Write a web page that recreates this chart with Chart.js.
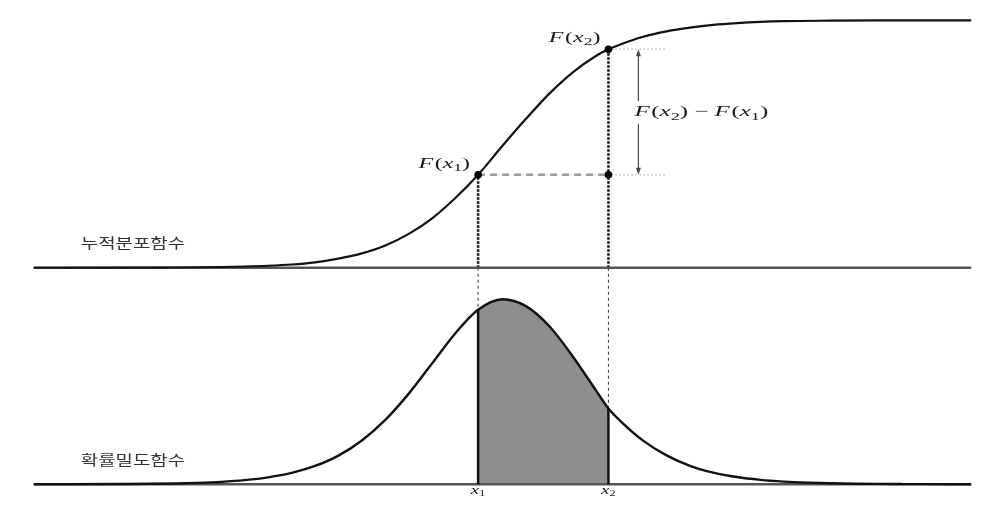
<!DOCTYPE html>
<html>
<head>
<meta charset="utf-8">
<script src="https://cdn.jsdelivr.net/npm/chart.js@4/dist/chart.umd.min.js"></script>
<style>
  html, body { margin: 0; padding: 0; background: #ffffff; }
  #wrap { width: 1002px; height: 506px; }
</style>
</head>
<body>
<div id="wrap"><canvas id="c" width="1002" height="506"></canvas></div>
<script>
// ---- data (x in arbitrary units along the horizontal axis) ----
const CDF_X = [0, 1.00, 1.50, 2.00, 2.25, 2.50, 2.75, 3.00, 3.25, 3.50, 3.75, 4.00, 4.25, 4.50, 4.74, 5.00, 5.25, 5.50, 5.75, 6.00, 6.13, 6.25, 6.50, 6.75, 7.00, 7.25, 7.50, 7.75, 8.00, 8.50, 9.00, 10.0];
const CDF_Y = [0, 0.0002, 0.001, 0.003, 0.005, 0.008, 0.013, 0.022, 0.037, 0.058, 0.090, 0.137, 0.200, 0.283, 0.376, 0.493, 0.602, 0.704, 0.790, 0.857, 0.883, 0.902, 0.934, 0.956, 0.971, 0.982, 0.989, 0.994, 0.997, 0.999, 1.0, 1.0];

const PDF_X = [0, 1.00, 1.25, 1.50, 1.75, 2.00, 2.25, 2.50, 2.75, 3.00, 3.25, 3.50, 3.75, 4.00, 4.25, 4.50, 4.74, 5.00, 5.25, 5.50, 5.75, 6.00, 6.13, 6.25, 6.50, 6.75, 7.00, 7.25, 7.50, 7.75, 8.00, 8.25, 8.50, 8.75, 9.00, 9.25, 9.50, 10.0];
const PDF_Y = [0, 0.0015, 0.0026, 0.0045, 0.0078, 0.0132, 0.0223, 0.0373, 0.0613, 0.0988, 0.155, 0.237, 0.348, 0.490, 0.654, 0.818, 0.943, 1.0, 0.963, 0.854, 0.691, 0.505, 0.410, 0.346, 0.236, 0.156, 0.100, 0.063, 0.039, 0.024, 0.0146, 0.0088, 0.0053, 0.0032, 0.0019, 0.0011, 0.0006, 0];

const AXIS_RANGE = [0, 10];          // extent of both baselines
const MARK_X = [4.74, 6.13];         // x1, x2
const MARK_F = [0.376, 0.883];       // F(x1), F(x2)
const MARK_P = [0.943, 0.410];       // f(x1), f(x2)

const LABEL_TOP = '누적분포함수';
const LABEL_BOTTOM = '확률밀도함수';
const TICK_LABELS = ['1', '2'];      // subscripts of x1, x2

// ---- helpers ----
const pts = (xs, ys) => xs.map((x, i) => ({ x: x, y: ys[i] }));
const pdfPts = pts(PDF_X, PDF_Y);
const shadePts = pdfPts.filter(p => p.x >= MARK_X[0] && p.x <= MARK_X[1]);

const SERIF = '"Liberation Serif", "DejaVu Serif", serif';
function drawRuns(ctx, runs, x, y, sx, align) {
  ctx.save();
  ctx.textBaseline = 'middle';
  let w = 0;
  runs.forEach(r => { ctx.font = r.font; r.w = ctx.measureText(r.t).width + (r.k || 0); w += r.w; });
  let start = x;
  if (align === 'center') start = x - w * sx / 2;
  else if (align === 'right') start = x - w * sx;
  ctx.translate(start, y);
  ctx.scale(sx, 1);
  let cx = 0;
  runs.forEach(r => { ctx.font = r.font; ctx.fillText(r.t, cx, r.dy || 0); cx += r.w; });
  ctx.restore();
}
function fx(sub, size) {
  const it = 'italic ' + size + 'px ' + SERIF;
  const rm = size + 'px ' + SERIF;
  const sb = Math.round(size * 0.7) + 'px ' + SERIF;
  return [
    { t: 'F', font: it, k: 1 },
    { t: '(', font: rm },
    { t: 'x', font: it },
    { t: sub, font: sb, dy: size * 0.28 },
    { t: ')', font: rm }
  ];
}

const guides = {
  id: 'guides',
  beforeDatasetsDraw(chart) {
    const ctx = chart.ctx;
    const xs = chart.scales.x, yC = chart.scales.yC, yP = chart.scales.yP;
    const x1 = xs.getPixelForValue(MARK_X[0]), x2 = xs.getPixelForValue(MARK_X[1]);
    const top0 = yC.getPixelForValue(0);
    const f1 = yC.getPixelForValue(MARK_F[0]), f2 = yC.getPixelForValue(MARK_F[1]);
    const p1 = yP.getPixelForValue(MARK_P[0]), p2 = yP.getPixelForValue(MARK_P[1]);
    ctx.save();
    // thin dashed connectors in the lower panel
    ctx.strokeStyle = '#333'; ctx.lineWidth = 1; ctx.setLineDash([3, 3]);
    [[x1, p1], [x2, p2]].forEach(([x, p]) => {
      ctx.beginPath(); ctx.moveTo(x, top0); ctx.lineTo(x, p); ctx.stroke();
    });
    // heavy dotted verticals in upper panel
    ctx.strokeStyle = '#111'; ctx.lineWidth = 2.5; ctx.setLineDash([2.5, 1.5]);
    [[x1, f1], [x2, f2]].forEach(([x, f]) => {
      ctx.beginPath(); ctx.moveTo(x, top0); ctx.lineTo(x, f); ctx.stroke();
    });
    // grey dashed horizontal at F(x1)
    ctx.strokeStyle = '#9a9a9a'; ctx.lineWidth = 2.5; ctx.setLineDash([7, 5]);
    ctx.beginPath(); ctx.moveTo(x1, f1); ctx.lineTo(x2, f1); ctx.stroke();
    // light dotted extensions
    ctx.strokeStyle = '#bdbdbd'; ctx.lineWidth = 1.5; ctx.setLineDash([1.5, 2.5]);
    [f1, f2].forEach(f => {
      ctx.beginPath(); ctx.moveTo(x2 + 3, f); ctx.lineTo(x2 + 58, f); ctx.stroke();
    });
    ctx.restore();
  },
  afterDatasetsDraw(chart) {
    const ctx = chart.ctx;
    const xs = chart.scales.x, yC = chart.scales.yC, yP = chart.scales.yP;
    const x1 = xs.getPixelForValue(MARK_X[0]), x2 = xs.getPixelForValue(MARK_X[1]);
    const f1 = yC.getPixelForValue(MARK_F[0]), f2 = yC.getPixelForValue(MARK_F[1]);
    const top0 = yC.getPixelForValue(0);
    const b0 = yP.getPixelForValue(0);
    const p1 = yP.getPixelForValue(MARK_P[0]), p2 = yP.getPixelForValue(MARK_P[1]);
    ctx.save();
    // solid borders of the shaded area
    ctx.strokeStyle = '#111'; ctx.lineWidth = 2.5; ctx.setLineDash([]);
    [[x1, p1], [x2, p2]].forEach(([x, p]) => {
      ctx.beginPath(); ctx.moveTo(x, b0); ctx.lineTo(x, p); ctx.stroke();
    });
    // double arrow F(x2) - F(x1)
    const ax = x2 + 30;
    const mid = (f1 + f2) / 2 + 1;
    ctx.strokeStyle = '#444'; ctx.fillStyle = '#444'; ctx.lineWidth = 1.2;
    ctx.beginPath(); ctx.moveTo(ax, f2 + 2); ctx.lineTo(ax, mid - 12); ctx.stroke();
    ctx.beginPath(); ctx.moveTo(ax, mid + 11); ctx.lineTo(ax, f1 - 2); ctx.stroke();
    ctx.beginPath(); ctx.moveTo(ax, f2); ctx.lineTo(ax - 2.5, f2 + 7); ctx.lineTo(ax + 2.5, f2 + 7); ctx.closePath(); ctx.fill();
    ctx.beginPath(); ctx.moveTo(ax, f1); ctx.lineTo(ax - 2.5, f1 - 7); ctx.lineTo(ax + 2.5, f1 - 7); ctx.closePath(); ctx.fill();

    // math labels
    ctx.fillStyle = '#1a1a1a';
    drawRuns(ctx, fx('1', 15), x1 - 8, f1 - 11, 1.6, 'right');
    drawRuns(ctx, fx('2', 15), x2 - 8, f2 - 11, 1.6, 'right');
    const diff = fx('2', 15).concat([{ t: ' \u2212 ', font: '15px ' + SERIF }]).concat(fx('1', 15));
    drawRuns(ctx, diff, ax - 4, mid - 0.5, 1.66, 'left');
    // x1, x2 tick labels
    [[x1, TICK_LABELS[0]], [x2, TICK_LABELS[1]]].forEach(([x, s]) => {
      drawRuns(ctx, [
        { t: 'x', font: 'italic 13px ' + SERIF },
        { t: s, font: '9px ' + SERIF, dy: 3.5 }
      ], x, b0 + 6, 1.45, 'center');
    });
    // Korean panel labels
    ctx.fillStyle = '#333';
    const left = xs.getPixelForValue(AXIS_RANGE[0]) + 47;
    drawRuns(ctx, [{ t: LABEL_TOP, font: '14px "Noto Sans CJK KR"' }], left, top0 - 25, 1.35, 'left');
    drawRuns(ctx, [{ t: LABEL_BOTTOM, font: '14px "Noto Sans CJK KR"' }], left, b0 - 25, 1.35, 'left');
    ctx.restore();
  }
};

const baseLine = (axis) => ({
  data: [{ x: AXIS_RANGE[0], y: 0 }, { x: AXIS_RANGE[1], y: 0 }],
  yAxisID: axis, borderColor: '#555', borderWidth: 2.5, pointRadius: 0, order: 5
});

new Chart(document.getElementById('c'), {
  type: 'line',
  data: {
    datasets: [
      { // shaded area P(x1 <= X <= x2)
        data: shadePts, yAxisID: 'yP', borderWidth: 0, borderColor: 'rgba(0,0,0,0)',
        backgroundColor: '#8e8e8e', fill: 'origin', pointRadius: 0,
        cubicInterpolationMode: 'monotone', order: 10
      },
      baseLine('yC'),
      baseLine('yP'),
      { // CDF
        data: pts(CDF_X, CDF_Y), yAxisID: 'yC', borderColor: '#111', borderWidth: 2.2,
        pointRadius: 0, cubicInterpolationMode: 'monotone', fill: false, order: 2
      },
      { // PDF
        data: pdfPts, yAxisID: 'yP', borderColor: '#111', borderWidth: 2.4,
        pointRadius: 0, cubicInterpolationMode: 'monotone', fill: false, order: 2
      },
      { // marked points
        type: 'scatter',
        data: [{ x: MARK_X[0], y: MARK_F[0] }, { x: MARK_X[1], y: MARK_F[1] }, { x: MARK_X[1], y: MARK_F[0] }],
        yAxisID: 'yC', pointRadius: 3.8, pointBackgroundColor: '#000', pointBorderWidth: 0,
        showLine: false, order: 0
      }
    ]
  },
  options: {
    responsive: false,
    animation: false,
    devicePixelRatio: 1,
    layout: { padding: 0 },
    plugins: { legend: { display: false }, tooltip: { enabled: false }, title: { display: false } },
    events: [],
    scales: {
      x: { type: 'linear', min: -0.3175, max: 10.2857, display: false },
      yC: { type: 'linear', min: -0.9472, max: 1.0664, display: false },
      yP: { type: 'linear', min: -0.0958, max: 2.5959, display: false }
    }
  },
  plugins: [guides]
});
</script>
</body>
</html>
